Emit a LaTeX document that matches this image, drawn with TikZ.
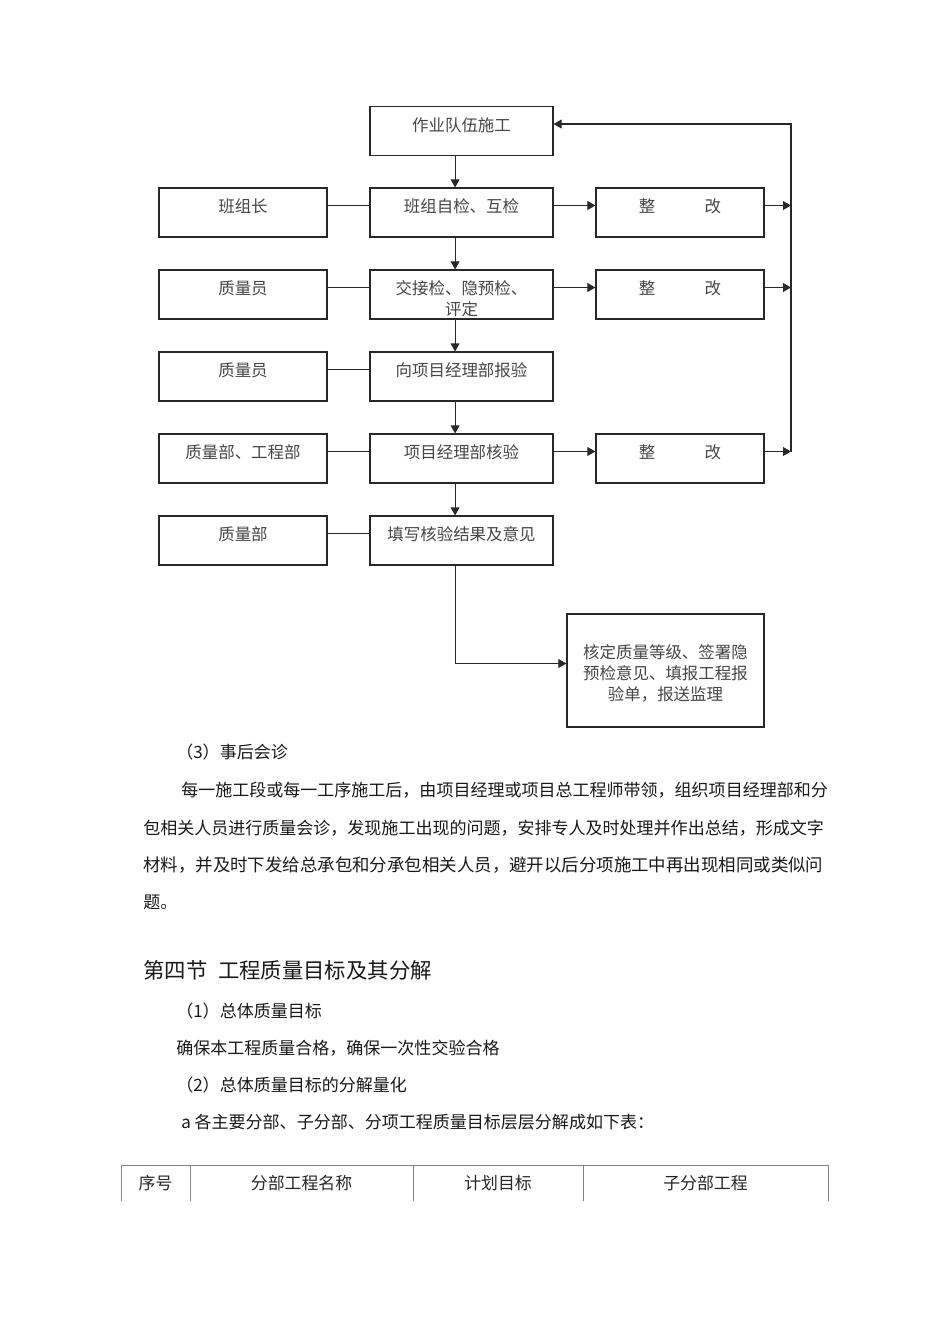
\documentclass[tikz,border=0pt]{standalone}
\usepackage{fontspec}
\setmainfont{Noto Sans CJK SC}
\usepackage{tikz}
\usepackage{xcolor}
\usetikzlibrary{arrows.meta, positioning, calc}
\definecolor{inkdark}{RGB}{40, 40, 40}
\definecolor{inkgray}{RGB}{70, 70, 70}
\definecolor{rulegray}{RGB}{130, 130, 130}
\tikzset{
    frame/.style={
        rectangle, draw=inkdark, line width=0.8pt, fill=white, text=inkgray,
        inner sep=0pt, minimum height=1.225cm, align=center,
        font=\fontsize{11.7}{14.9}\selectfont
    },
    box/.style={frame, text height=0.3cm, text depth=0.3cm},
    sidebox/.style={box, minimum width=4.2cm},
    stepbox/.style={box, minimum width=4.575cm},
    fixbox/.style={box, minimum width=4.2cm},
    arrow/.style={-{Triangle[length=0.2cm, width=0.22cm]}, line width=0.8pt, color=inkdark},
    link/.style={line width=0.8pt, color=inkdark},
    lvl/.style={yshift=0.175cm},
    lft/.style={xshift=-0.16cm},
    txt/.style={anchor=west, inner sep=0pt, text=black!90, font=\fontsize{12.1}{15}\selectfont},
    headtxt/.style={txt, font=\fontsize{15.2}{18}\selectfont},
    cell/.style={inner sep=0pt, text=black!85, font=\fontsize{12}{14}\selectfont},
    grid/.style={line width=0.6pt, color=rulegray},
}
\begin{document}
\begin{tikzpicture}[x=0.025cm, y=-0.025cm]
    \path[use as bounding box, fill=white] (0,0) rectangle (950,1344);

    % main column
    \node[stepbox] (team) at (461.5,131) {作业队伍施工};
    \node[stepbox] (self) at (461.5,212.5) {班组自检、互检};
    \node[stepbox, text height=1.09cm, text depth=0.05cm] (handover) at (461.5,294.5) {交接检、隐预检、\\评定};
    \node[stepbox] (report) at (461.5,376.5) {向项目经理部报验};
    \node[stepbox] (verify) at (461.5,458.5) {项目经理部核验};
    \node[stepbox] (fill) at (461.5,540.5) {填写核验结果及意见};

    % who does it
    \node[sidebox] (lead) at (243,212.5) {班组长};
    \node[sidebox] (qc1) at (243,294.5) {质量员};
    \node[sidebox] (qc2) at (243,376.5) {质量员};
    \node[sidebox] (dept) at (243,458.5) {质量部、工程部};
    \node[sidebox] (qcd) at (243,540.5) {质量部};

    % rework
    \node[fixbox] (fix1) at (680,212.5) {整\hspace{3em}改};
    \node[fixbox] (fix2) at (680,294.5) {整\hspace{3em}改};
    \node[fixbox] (fix3) at (680,458.5) {整\hspace{3em}改};

    \node[frame, minimum width=4.925cm, minimum height=2.825cm, text height=1.55cm, text depth=0.03cm,
        font=\fontsize{11.7}{15.1}\selectfont] (sign) at (665.5,670.5)
        {核定质量等级、签署隐\\预检意见、填报工程报\\验单，报送监理};

    \foreach \a/\b in {team/self, self/handover, handover/report, report/verify, verify/fill}
        \draw[arrow] ([lft]\a.south) -- ([lft]\b.north);

    \foreach \a/\b in {lead/self, qc1/handover, qc2/report, dept/verify, qcd/fill}
        \draw[link] ([lvl]\a.east) -- ([lvl]\b.west);

    \foreach \a/\b in {self/fix1, handover/fix2, verify/fix3}
        \draw[arrow] ([lvl]\a.east) -- ([lvl]\b.west);

    \draw[arrow] ([lft]fill.south) |- ([lvl]sign.west);

    % loop back to the team
    \coordinate (back) at (791,0);
    \coordinate (in) at ([lvl]team.east);
    \coordinate (o1) at ([lvl]fix1.east);
    \coordinate (o2) at ([lvl]fix2.east);
    \coordinate (o3) at ([lvl]fix3.east);
    \draw[arrow] (o3 -| back) -- (in -| back) -- (in);
    \foreach \o in {o1,o2,o3}
        \draw[arrow] (\o) -- (\o -| back);

    % text below
    \node[txt] (t3) at (176,752) {（3）事后会诊};
    \node[txt] (p1) at (181,790) {每一施工段或每一工序施工后，由项目经理或项目总工程师带领，组织项目经理部和分};
    \node[txt] (p2) at (143,828) {包相关人员进行质量会诊，发现施工出现的问题，安排专人及时处理并作出总结，形成文字};
    \node[txt, font=\fontsize{12.4}{15}\selectfont] (p3) at (143,865) {材料，并及时下发给总承包和分承包相关人员，避开以后分项施工中再出现相同或类似问};
    \node[txt] (p4) at (143,902) {题。};
    \node[headtxt] (sec) at (143,970) {第四节\hspace{0.5em}工程质量目标及其分解};
    \node[txt] (t1) at (176,1011) {（1）总体质量目标};
    \node[txt] (goal) at (176,1048) {确保本工程质量合格，确保一次性交验合格};
    \node[txt] (t2) at (176,1085) {（2）总体质量目标的分解量化};
    \node[txt] (ta) at (181,1122) {a 各主要分部、子分部、分项工程质量目标层层分解成如下表：};

    % table head
    \draw[grid] (121,1165) -- (828,1165);
    \foreach \x in {121,190,413,583,828}
        \draw[grid] (\x,1165) -- (\x,1201);
    \node[cell] (h1) at (155.5,1183) {序号};
    \node[cell] (h2) at (301.5,1183) {分部工程名称};
    \node[cell] (h3) at (498,1183) {计划目标};
    \node[cell] (h4) at (705.5,1183) {子分部工程};
\end{tikzpicture}
\end{document}
